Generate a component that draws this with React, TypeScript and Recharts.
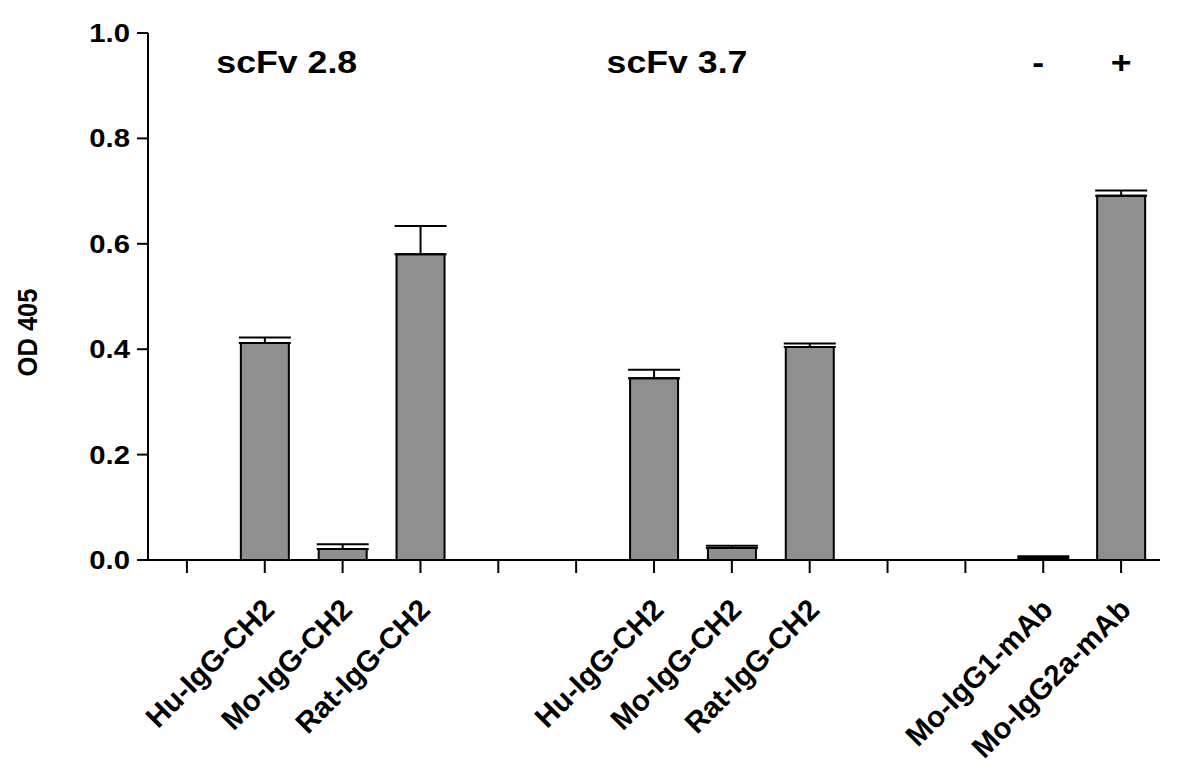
import React from "react";
import { BarChart, Bar, XAxis, YAxis, ErrorBar, ReferenceDot } from "recharts";

// 13 slots on the category axis, empty ones keep the gaps between groups
const slots = ["g1", "hu28", "mo28", "rat28", "g2", "g3", "hu37", "mo37", "rat37", "g4", "g5", "igg1", "igg2a"];
const slotLabels = [
  "", "Hu-IgG-CH2", "Mo-IgG-CH2", "Rat-IgG-CH2", "", "",
  "Hu-IgG-CH2", "Mo-IgG-CH2", "Rat-IgG-CH2", "", "",
  "Mo-IgG1-mAb", "Mo-IgG2a-mAb",
];
const od405 = [null, 0.412, 0.021, 0.58, null, null, 0.345, 0.023, 0.404, null, null, 0.004, 0.691];
const sem = [null, 0.01, 0.009, 0.054, null, null, 0.016, 0.004, 0.007, null, null, 0.003, 0.01];
const yTicks = [0, 0.2, 0.4, 0.6, 0.8, 1.0];

const titleSlots = ["hu28", "hu37", "igg1", "igg2a"];
const titleTexts = ["scFv 2.8", "scFv 3.7", "-", "+"];
const titleY = 0.925;

const data = slots.map((slot, i) => ({
  slot,
  od: od405[i],
  err: sem[i] == null ? null : [0, sem[i]],
}));

const FONT = "'Liberation Sans', Arial, Helvetica, sans-serif";
const STRETCH = 1.17;
const titleDx = [22, 23, -5, 0];

const XTick = (props: any) => {
  const { x, y, payload } = props;
  const label = slotLabels[slots.indexOf(payload.value)];
  if (!label) return null;
  return (
    <g transform={`translate(${x + 4},${y + 1})`}>
      <text
        x={0}
        y={0}
        dy="0.35em"
        textAnchor="end"
        transform="rotate(-45)"
        fontFamily={FONT}
        fontWeight="bold"
        fontSize={29.5}
        fill="#000"
      >
        {label}
      </text>
    </g>
  );
};

const YTick = (props: any) => {
  const { x, y, payload } = props;
  return (
    <text
      transform={`translate(${x},${y}) scale(${STRETCH},1)`}
      dy="0.36em"
      textAnchor="end"
      fontFamily={FONT}
      fontWeight="bold"
      fontSize={25}
      fill="#000"
    >
      {Number(payload.value).toFixed(1)}
    </text>
  );
};

const YLabel = (props: any) => {
  const { viewBox } = props;
  const cx = viewBox.x + 27;
  const cy = viewBox.y + viewBox.height / 2 + 36;
  return (
    <text
      transform={`translate(${cx},${cy}) rotate(-90) scale(1,1.12)`}
      textAnchor="middle"
      dy="0.36em"
      fontFamily={FONT}
      fontWeight="bold"
      fontSize={25.5}
      fill="#000"
    >
      OD 405
    </text>
  );
};

const makeTitle = (text: string, dx: number) => (props: any) => {
  const { viewBox } = props;
  const cx = viewBox.x + viewBox.width / 2 + dx;
  const cy = viewBox.y + viewBox.height / 2;
  return (
    <text
      transform={`translate(${cx},${cy}) scale(${STRETCH},1)`}
      textAnchor="middle"
      fontFamily={FONT}
      fontWeight="bold"
      fontSize={30.5}
      fill="#000"
    >
      {text}
    </text>
  );
};

export default function App() {
  return (
    <div style={{ position: "absolute", left: 0, top: 0, width: 1200, height: 774, background: "#fff" }}>
      <BarChart
        width={1200}
        height={774}
        data={data}
        margin={{ top: 33, right: 40, bottom: 0, left: 0 }}
        barSize={48}
      >
        <XAxis
          dataKey="slot"
          interval={0}
          height={214}
          tickSize={13}
          tickMargin={30}
          tick={<XTick />}
          axisLine={{ stroke: "#000", strokeWidth: 2 }}
          tickLine={{ stroke: "#000", strokeWidth: 2 }}
        />
        <YAxis
          domain={[0, 1]}
          ticks={yTicks}
          width={148}
          tickSize={11}
          tickMargin={7}
          tick={<YTick />}
          axisLine={{ stroke: "#000", strokeWidth: 2 }}
          tickLine={{ stroke: "#000", strokeWidth: 2 }}
          label={{ content: YLabel }}
        />
        <Bar dataKey="od" fill="#8f8f8f" stroke="#000" strokeWidth={2} isAnimationActive={false}>
          <ErrorBar dataKey="err" direction="y" width={26} stroke="#000" strokeWidth={2} isAnimationActive={false} />
        </Bar>
        {titleSlots.map((s, i) => (
          <ReferenceDot
            key={s}
            x={s}
            y={titleY}
            r={0}
            fill="none"
            stroke="none"
            label={{ content: makeTitle(titleTexts[i], titleDx[i]) }}
          />
        ))}
      </BarChart>
    </div>
  );
}
